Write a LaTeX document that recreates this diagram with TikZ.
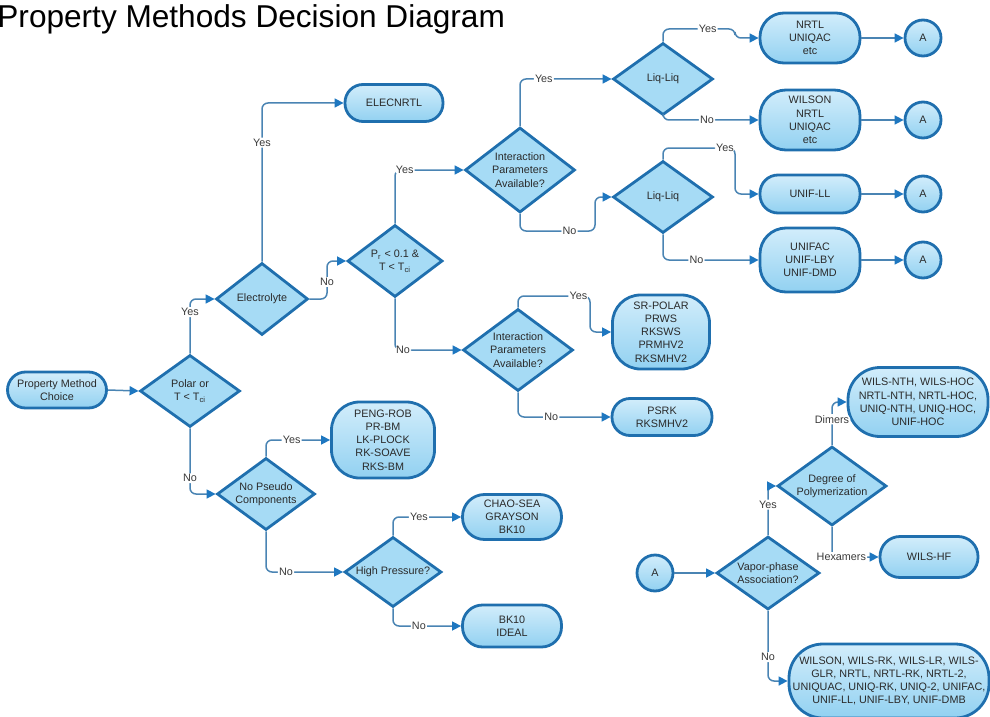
\documentclass[tikz,border=0pt]{standalone}
\usepackage{fontspec}
\setmainfont{Liberation Sans}
\usetikzlibrary{shapes.geometric,arrows.meta,calc}
\definecolor{bordc}{HTML}{1F6FAE}
\definecolor{linkc}{HTML}{4A84B3}
\definecolor{arrowc}{HTML}{1E77C0}
\definecolor{filltop}{HTML}{D2EDFB}
\definecolor{fillbot}{HTML}{92D1F1}
\definecolor{dfill}{HTML}{A6DBF5}
\definecolor{txtc}{HTML}{2A2A2A}
\definecolor{lblc}{HTML}{3A3A3A}
\newcommand\nodefont{\fontsize{5.4}{6.6}\selectfont}
\tikzset{
  box/.style={draw=bordc, line width=1.4pt, top color=filltop, bottom color=fillbot,
    rounded corners=#1, inner sep=1pt, align=center, font=\nodefont, text=txtc},
  box/.default=9pt,
  dia/.style={diamond, draw=bordc, line width=1.4pt, fill=dfill, inner sep=-4pt,
    align=center, font=\nodefont, text=txtc},
  acirc/.style={circle, draw=bordc, line width=1.4pt, top color=filltop, bottom color=fillbot,
    minimum size=18pt, inner sep=0pt, font=\nodefont, text=txtc},
  sz/.style 2 args={minimum width=#1, minimum height=#2},
  link/.style={draw=linkc, line width=0.75pt, rounded corners=3pt,
    -{Triangle[length=4.5pt,width=4.5pt,color=arrowc]}},
  lbl/.style={fill=white, inner sep=0.6pt, font=\nodefont, text=lblc},
}
\begin{document}
\begin{tikzpicture}[x=0.5pt,y=-0.5pt]
\useasboundingbox (0,0) rectangle (990,717);
\node[anchor=base west, inner sep=0pt, font=\fontsize{15.8}{18}\selectfont, text=black] (title) at (-3,28) {Property Methods Decision Diagram};

% left part
\node[box, sz={49.5pt}{18pt}] (pmc) at (57,390) {Property Method\\Choice};
\node[dia, sz={50pt}{36pt}] (polar) at (190,391) {Polar or\\T < T\textsubscript{ci}};
\node[dia, sz={46pt}{36pt}] (elec) at (262,299) {Electrolyte};
\node[box, sz={49pt}{18.5pt}] (elecnrtl) at (394,103) {ELECNRTL};
\node[dia, sz={47.5pt}{36pt}] (pr) at (395,261) {P\textsubscript{r} < 0.1 \&\\T < T\textsubscript{ci}};
\node[dia, sz={55pt}{42.5pt}] (ip1) at (520,170) {Interaction\\Parameters\\Available?};
\node[dia, sz={50pt}{36pt}] (liq1) at (663,79) {Liq-Liq};
\node[box=12pt, sz={50pt}{25pt}] (nrtl) at (810,38) {NRTL\\UNIQAC\\etc};
\node[acirc] (a1) at (923,38) {A};
\node[box=13pt, sz={50pt}{30pt}] (wilson) at (810,120) {WILSON\\NRTL\\UNIQAC\\etc};
\node[acirc] (a2) at (923,120) {A};
\node[dia, sz={50pt}{36pt}] (liq2) at (663,197) {Liq-Liq};
\node[box, sz={50pt}{19pt}] (unifll) at (810,194) {UNIF-LL};
\node[acirc] (a3) at (923,194) {A};
\node[box=13pt, sz={50pt}{32pt}] (unifac) at (810,260) {UNIFAC\\UNIF-LBY\\UNIF-DMD};
\node[acirc] (a4) at (923,260) {A};
\node[dia, sz={55pt}{41pt}] (ip2) at (518,350) {Interaction\\Parameters\\Available?};
\node[box=14pt, sz={48.5pt}{37pt}] (srpolar) at (661,332) {SR-POLAR\\PRWS\\RKSWS\\PRMHV2\\RKSMHV2};
\node[box, sz={50pt}{18.5pt}] (psrk) at (662,417) {PSRK\\RKSMHV2};
\node[dia, sz={49pt}{36pt}] (nopseudo) at (266,494) {No Pseudo\\Components};
\node[box=14pt, sz={51.5pt}{38pt}] (pengrob) at (383,440) {PENG-ROB\\PR-BM\\LK-PLOCK\\RK-SOAVE\\RKS-BM};
\node[dia, sz={48.5pt}{35pt}] (hp) at (393,572) {High Pressure?};
\node[box=11pt, sz={49.5pt}{22.5pt}] (chao) at (512,517) {CHAO-SEA\\GRAYSON\\BK10};
\node[box=10pt, sz={49.5pt}{21pt}] (bk10) at (512,626) {BK10\\IDEAL};

% right bottom part
\node[acirc] (a5) at (655,573) {A};
\node[dia, sz={51.5pt}{36.5pt}] (vapor) at (768,573) {Vapor-phase\\Association?};
\node[dia, sz={54.5pt}{39.5pt}] (deg) at (832,486) {Degree of\\Polymerization};
\node[box=16pt, sz={70pt}{34.5pt}] (wilsnth) at (918,402) {WILS-NTH, WILS-HOC\\NRTL-NTH, NRTL-HOC,\\UNIQ-NTH, UNIQ-HOC,\\UNIF-HOC};
\node[box=10pt, sz={49pt}{20.5pt}] (wilshf) at (929,557) {WILS-HF};
\node[box=17pt, sz={100pt}{37pt}, inner sep=0pt] (final) at (889,681) {WILSON, WILS-RK, WILS-LR, WILS-\\GLR, NRTL, NRTL-RK, NRTL-2,\\UNIQUAC, UNIQ-RK, UNIQ-2, UNIFAC,\\UNIF-LL, UNIF-LBY, UNIF-DMB};

% connectors
\draw[link] (pmc.east) -- (polar.west);
\draw[link] (polar.north) |- (elec.west) node[lbl,pos=0.38]{Yes};
\draw[link] (polar.south) |- (nopseudo.west) node[lbl,pos=0.38]{No};
\draw[link] (elec.north) |- (elecnrtl.west) node[lbl,pos=0.375]{Yes};
\draw[link] (elec.east) -| (327,282) node[lbl]{No} |- (pr.west);
\draw[link] (pr.north) |- (ip1.west) node[lbl,pos=0.57]{Yes};
\draw[link] (pr.south) |- (ip2.west) node[lbl,pos=0.56]{No};
\draw[link] (ip1.north) |- (liq1.west) node[lbl,pos=0.63]{Yes};
\draw[link] (ip1.south) |- (595,231) node[lbl,pos=0.83]{No} |- (liq2.west);
\draw[link] (liq1.north) |- (735,29) node[lbl,pos=0.81]{Yes} |- (nrtl.west);
\draw[link] (liq1.south) |- (wilson.west) node[lbl,pos=0.73]{No};
\draw[link] (liq2.north) |- (735,148) node[lbl,pos=0.93]{Yes} |- (unifll.west);
\draw[link] (liq2.south) |- (unifac.west) node[lbl,pos=0.675]{No};
\draw[link] (nrtl.east) -- (a1.west);
\draw[link] (wilson.east) -- (a2.west);
\draw[link] (unifll.east) -- (a3.west);
\draw[link] (unifac.east) -- (a4.west);
\draw[link] (ip2.north) |- (590,296) node[lbl,pos=0.92]{Yes} |- (srpolar.west);
\draw[link] (ip2.south) |- (psrk.west) node[lbl,pos=0.68]{No};
\draw[link] (nopseudo.north) |- (pengrob.west) node[lbl,pos=0.7]{Yes};
\draw[link] (nopseudo.south) |- (hp.west) node[lbl,pos=0.63]{No};
\draw[link] (hp.north) |- (chao.west) node[lbl,pos=0.69]{Yes};
\draw[link] (hp.south) |- (bk10.west) node[lbl,pos=0.69]{No};
\draw[link] (a5.east) -- (vapor.west);
\draw[link] (vapor.north) |- (deg.west) node[lbl,pos=0.31]{Yes};
\draw[link] (vapor.south) |- (final.west) node[lbl,pos=0.33]{No};
\draw[link] (deg.north) |- (wilsnth.west) node[lbl,pos=0.3]{Dimers};
\draw[link] (deg.south) |- (wilshf.west) node[lbl,pos=0.6]{Hexamers};
\end{tikzpicture}
\end{document}
